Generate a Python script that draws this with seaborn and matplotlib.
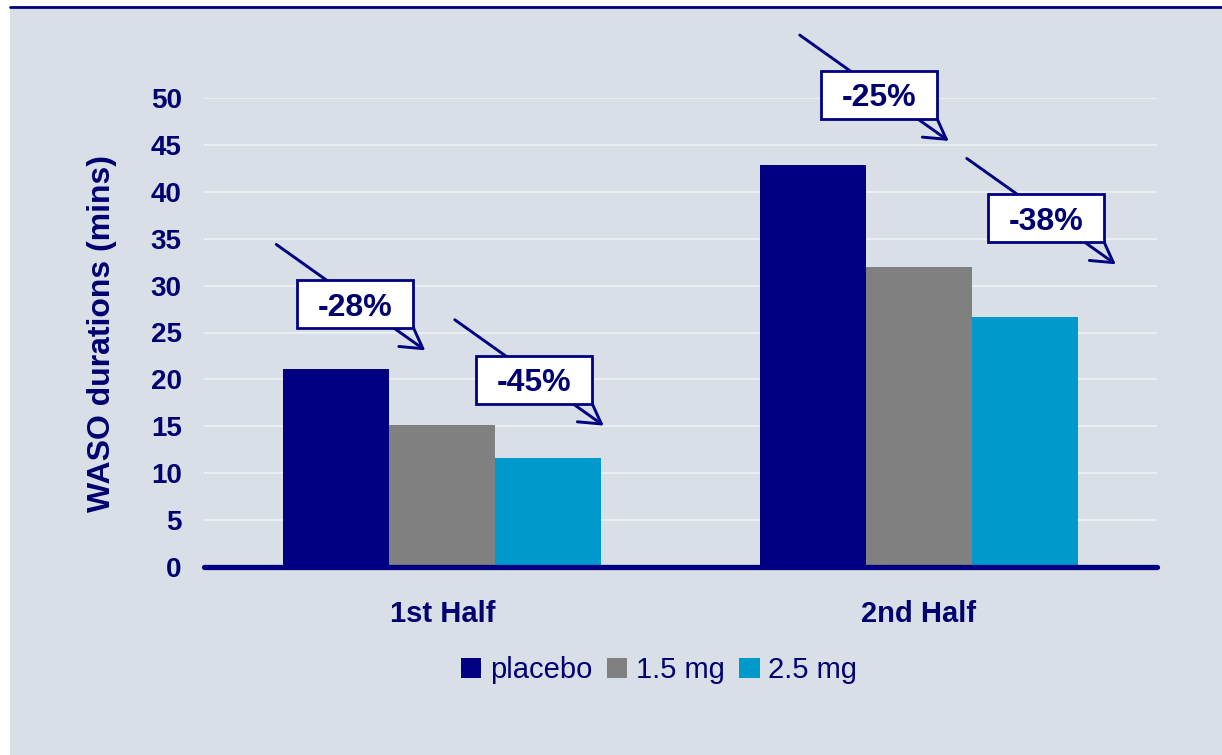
import numpy as np
import pandas as pd
import matplotlib
matplotlib.use("Agg")
import matplotlib.pyplot as plt
from matplotlib.patches import Rectangle
from matplotlib.lines import Line2D
import seaborn as sns

# ---- data -------------------------------------------------------------
halves = ["1st Half", "2nd Half"]
doses = ["placebo", "1.5 mg", "2.5 mg"]
placebo = [21.1, 42.9]
dose_15 = [15.1, 32.0]
dose_25 = [11.6, 26.6]
y_ticks = [0, 5, 10, 15, 20, 25, 30, 35, 40, 45, 50]
y_title = "WASO durations (mins)"

# ---- styling ----------------------------------------------------------
NAVY = "#000080"
TEXT = "#000070"
GRAY = "#808080"
CYAN = "#0099CC"
PANEL = "#D9DFE7"
GRID = "#EEF1F5"
palette = dict(zip(doses, [NAVY, GRAY, CYAN]))

sns.set_theme(style="white")
plt.rcParams["font.family"] = ["Liberation Sans", "DejaVu Sans"]

df = pd.DataFrame({
    "half": halves * 3,
    "dose": np.repeat(doses, len(halves)),
    "waso": placebo + dose_15 + dose_25,
})

W, H = 1222, 755
fig = plt.figure(figsize=(W / 100, H / 100), dpi=100, facecolor="white")

# light panel behind the chart with a navy rule along its top
fig.patches.append(Rectangle((10 / W, 0), 1, (H - 9) / H, transform=fig.transFigure,
                             facecolor=PANEL, edgecolor="none", zorder=-10))
fig.lines.append(Line2D([10 / W, 1], [(H - 7.3) / H] * 2, transform=fig.transFigure,
                        color=NAVY, lw=2.0, zorder=-5))

ax = fig.add_axes([204 / W, (H - 567) / H, (1157 - 204) / W, (567 - 98) / H])
ax.set_zorder(1)
ax.patch.set_visible(False)

sns.barplot(data=df, x="half", y="waso", hue="dose", hue_order=doses, order=halves,
            palette=palette, width=0.667, saturation=1, linewidth=0, ax=ax, zorder=3)

ax.set_xlim(-0.5, 1.5)
ax.set_ylim(0, 50)
ax.set_yticks(y_ticks)
ax.set_yticklabels([str(t) for t in y_ticks])
for y in y_ticks[1:]:
    ax.axhline(y, color=GRID, lw=1.3, zorder=1)
ax.axhline(0, color=NAVY, lw=3.8, solid_capstyle="round", zorder=4, clip_on=False)

for s in ax.spines.values():
    s.set_visible(False)
ax.tick_params(axis="y", length=0, pad=16, labelsize=20, labelcolor=TEXT)
ax.tick_params(axis="x", length=0, pad=24, labelsize=21, labelcolor=TEXT)
for lab in ax.get_yticklabels() + ax.get_xticklabels():
    lab.set_fontweight("bold")
ax.set_xlabel("")
ax.set_ylabel("")
fig.text(102 / W, (H - 334) / H, y_title, rotation=90, ha="center", va="center",
         fontsize=23, fontweight="bold", color=TEXT)

# legend below the axis
leg = ax.get_legend()
handles = leg.legend_handles
labels = [t.get_text() for t in leg.texts]
leg.remove()
fig.legend(handles, labels, loc="center", bbox_to_anchor=(659 / W, (H - 670) / H),
           ncol=3, frameon=False, fontsize=21, labelcolor=TEXT,
           handlelength=0.7, handleheight=0.7, handletextpad=0.3, columnspacing=0.5)

# reduction call-outs: arrow with a boxed percentage over its middle
px_x = 1 / 476.5   # data units per pixel along x
px_y = 50 / 469.5  # data units per pixel along y
callouts = [  # (group index, dose series, box centre x, box centre y)
    (0, dose_15, -0.1826, 28.0),
    (0, dose_25, 0.192, 19.97),
    (1, dose_15, 0.916, 50.32),
    (1, dose_25, 1.2665, 37.17),
]
for gi, series, cx, cy in callouts:
    pct = round((series[gi] / placebo[gi] - 1) * 100)
    start = (cx - 79 * px_x, cy + 60 * px_y)
    end = (cx + 70 * px_x, cy - 46 * px_y)
    ax.annotate("", xy=end, xytext=start, annotation_clip=False, zorder=6,
                arrowprops=dict(arrowstyle="->,head_length=0.6,head_width=0.35",
                                mutation_scale=25, color=NAVY, lw=2.1,
                                shrinkA=0, shrinkB=0))
    bw, bh = 116 * px_x, 48 * px_y
    ax.add_patch(Rectangle((cx - bw / 2, cy - bh / 2), bw, bh, facecolor="white",
                           edgecolor=NAVY, lw=2.0, zorder=7, clip_on=False))
    ax.text(cx, cy, f"{pct}%", ha="center", va="center_baseline", fontsize=23,
            fontweight="bold", color=TEXT, zorder=8, clip_on=False)

fig.savefig("out.png", dpi=100, facecolor="white")
